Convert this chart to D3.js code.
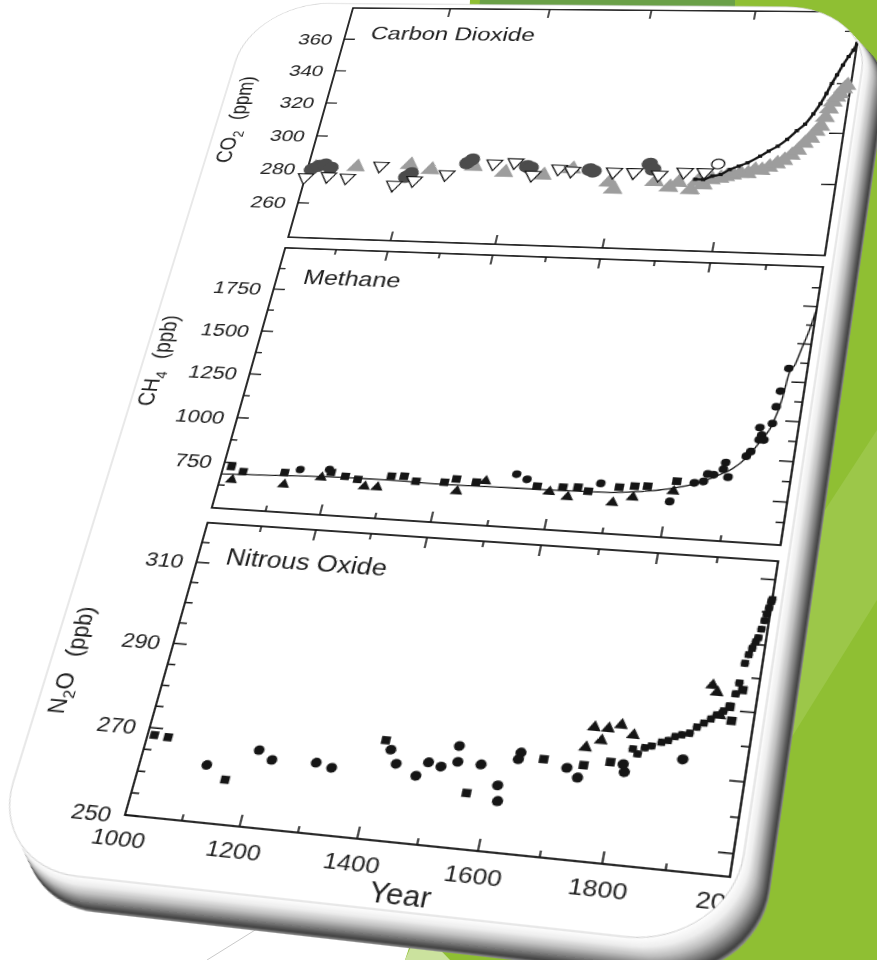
<!DOCTYPE html>
<html>
<head>
<meta charset="utf-8">
<script src="https://d3js.org/d3.v7.min.js"></script>
<style>
  body { margin: 0; background: #ffffff; }
  #stage { position: relative; width: 877px; height: 960px; overflow: hidden; }
  #bg, #chart { position: absolute; left: 0; top: 0; }
  #chart { transform-origin: 0 0; }
  text { font-family: "Liberation Sans", Arial, sans-serif; fill: #1e1e1e; }
</style>
</head>
<body>
<div id="stage">
  <svg id="bg" width="877" height="960"></svg>
  <div id="chart"></div>
</div>
<script>
// ---------------- data ----------------
const xLabelYears = [1000, 1200, 1400, 1600, 1800, 2000];
const xMajorTicks = [1200, 1400, 1600, 1800];
const xMinorTicks = [1100, 1300, 1500, 1700, 1900];

const co2Ticks = [260, 280, 300, 320, 340, 360];
const co2RightTicks = [279, 308, 337, 368];
const ch4Ticks = [750, 1000, 1250, 1500, 1750];
const ch4MinorTicks = [625, 875, 1125, 1375, 1625, 1875];
const ch4ForcingTicks = [-0.05, 0, 0.05, 0.1, 0.15, 0.2, 0.25, 0.3, 0.35, 0.4, 0.45, 0.5, 0.55];
const n2oTicks = [250, 270, 290, 310];
const n2oMinorTicks = [255, 260, 265, 275, 280, 285, 295, 300, 305, 315];
const n2oForcingTicks = [-0.1, -0.05, 0, 0.05, 0.1, 0.15, 0.2, 0.25, 0.3];

// Carbon dioxide (ppm)
const co2GreyTriangles = [[1012, 281], [1096, 282], [1200, 284], [1243, 281.5], [1325, 284], [1386, 281],
  [1460, 280], [1513, 284], [1587, 277], [1598, 273], [1672, 278], [1700, 275], [1715, 278], [1740, 274],
  [1750, 279], [1762, 277], [1775, 280], [1790, 281], [1800, 282], [1812, 283], [1825, 284], [1838, 284],
  [1850, 286], [1862, 286], [1875, 288], [1888, 290], [1900, 292], [1912, 295], [1922, 298], [1932, 302],
  [1942, 305], [1950, 309], [1957, 312], [1963, 317], [1968, 322], [1973, 326], [1978, 329], [1983, 331],
  [1988, 334], [1993, 336]];
const co2DarkCircles = [[1008, 280], [1020, 282], [1032, 283], [1046, 281], [1198, 277], [1206, 279],
  [1310, 286], [1318, 288], [1426, 285], [1434, 284], [1546, 284], [1554, 283], [1656, 288], [1664, 285]];
const co2OpenTriangles = [[1000, 275], [1045, 276], [1083, 275.5], [1143, 283], [1178, 272], [1215, 275],
  [1275, 279], [1362, 286], [1402, 287], [1440, 280], [1488, 284], [1513, 283], [1592, 283], [1630, 283],
  [1677, 282], [1723, 284], [1760, 284]];
const co2OpenCircles = [[1782, 289]];
const co2Black = [[1745, 280], [1760, 280], [1775, 282], [1790, 283], [1805, 286], [1820, 288], [1835, 290],
  [1856, 294], [1870, 297], [1885, 300], [1900, 304], [1915, 309], [1928, 313], [1940, 319], [1950, 325],
  [1958, 331], [1965, 337], [1972, 342], [1980, 348], [1988, 353], [1995, 357], [2000, 361]];

// Methane (ppb)
const ch4Squares = [[1015, 728], [1039, 705], [1116, 714], [1201, 730], [1228, 713], [1252, 701], [1311, 729],
  [1334, 733], [1357, 710], [1408, 714], [1428, 735], [1464, 725], [1572, 723], [1617, 726], [1643, 731],
  [1662, 713], [1714, 744], [1740, 754], [1762, 758], [1810, 793]];
const ch4Triangles = [[1022, 657], [1120, 649], [1185, 700], [1267, 666], [1290, 665], [1433, 670],
  [1480, 734], [1595, 698], [1628, 677], [1707, 662], [1740, 696], [1807, 740]];
const ch4Circles = [[1143, 735], [1196, 745], [1532, 780], [1552, 756], [1681, 758], [1804, 686],
  [1840, 790], [1855, 800], [1860, 840], [1870, 838], [1885, 870], [1887, 905], [1895, 830], [1920, 945],
  [1926, 970], [1935, 1100], [1937, 1035], [1940, 1060], [1945, 1035], [1955, 1125], [1957, 1215],
  [1960, 1300], [1968, 1425]];
const ch4Line = [[1000, 685], [1100, 695], [1200, 705], [1300, 708], [1400, 703], [1500, 705], [1600, 708],
  [1700, 714], [1750, 728], [1800, 752], [1850, 795], [1880, 840], [1900, 875], [1920, 935], [1940, 1030],
  [1955, 1120], [1965, 1260], [1970, 1400], [1978, 1450], [1985, 1540], [1993, 1640], [2000, 1760]];

// Nitrous oxide (ppb)
const n2oCircles = [[1117, 262.8], [1200, 267.2], [1226, 265.3], [1302, 265.6], [1330, 264.8], [1422, 270],
  [1436, 267], [1473, 264.8], [1489, 268], [1511, 267.3], [1534, 272.2], [1537, 268.7], [1576, 268.6],
  [1610, 264.4], [1615, 261], [1637, 272], [1635, 270.5], [1716, 269.6], [1736, 267.7], [1809, 269.8],
  [1805, 271.5], [1898, 273.7]];
const n2oSquares = [[1012, 268.4], [1037, 268.2], [1155, 259.9], [1410, 272], [1562, 262.1], [1676, 271],
  [1742, 270.5], [1784, 271.7], [1959, 286], [1965, 283], [1975, 290]];
const n2oTriangles = [[1748, 279], [1771, 279], [1791, 280], [1740, 274.4], [1763, 276.2], [1813, 278],
  [1926, 290.5], [1935, 289], [1945, 284]];
const n2oBand = [[1816, 275], [1825, 274], [1835, 275.5], [1845, 276], [1860, 277], [1870, 277.5],
  [1880, 278.5], [1890, 279], [1902, 279.5], [1912, 281], [1922, 282], [1932, 283], [1940, 284],
  [1950, 285], [1959, 286.3], [1965, 289], [1968, 291.5], [1972, 296], [1976, 298], [1980, 299.5],
  [1984, 301], [1987, 302], [1990, 304], [1993, 306], [1995, 307.5], [1997, 309], [1999, 310.5], [2000, 311]];

// ---------------- layout (flat chart, later put in perspective) ----------------
const W = 500, H = 915, ML = 130, MT = 20, SW = 700, SH = 1060;
// where the four corners of the plotting frame land on the page
const frameCorners = [[353, 8], [862, 12], [730, 877], [125, 815]];

const face = { x: ML - 106, y: MT - 6, w: 614, h: H + 66, r: 80 };
const bevel = { dx: 24, dy: 30 };

const panels = [
  { id: "co2", top: 0, bottom: 296, domain: [240, 380] },
  { id: "ch4", top: 309, bottom: 606, domain: [500, 2000] },
  { id: "n2o", top: 622, bottom: H, domain: [250, 320] }
];

// ---------------- background slide ----------------
const bg = d3.select("#bg");
bg.append("rect").attr("width", 877).attr("height", 960).attr("fill", "#ffffff");
bg.append("polygon").attr("points", "480,0 877,0 877,960 405,960 425,900 470,0").attr("fill", "#8fbf33");
bg.append("polygon").attr("points", "480,0 735,0 735,40 476,40").attr("fill", "#6aa048");
bg.append("polygon").attr("points", "790,740 812,530 877,430 877,600").attr("fill", "#9cc749");
bg.append("polygon").attr("points", "405,960 419,928 450,960").attr("fill", "#cbe29e");
bg.append("line").attr("x1", 268).attr("y1", 922).attr("x2", 207).attr("y2", 960)
  .attr("stroke", "#c9c9c9").attr("stroke-width", 1);

// ---------------- perspective ----------------
function homography(src, dst) {
  const A = [], B = [];
  for (let i = 0; i < 4; i++) {
    const [px, py] = src[i], [X, Y] = dst[i];
    A.push([px, py, 1, 0, 0, 0, -px * X, -py * X]); B.push(X);
    A.push([0, 0, 0, px, py, 1, -px * Y, -py * Y]); B.push(Y);
  }
  const n = 8;
  for (let i = 0; i < n; i++) {
    let p = i;
    for (let r = i + 1; r < n; r++) if (Math.abs(A[r][i]) > Math.abs(A[p][i])) p = r;
    [A[i], A[p]] = [A[p], A[i]]; [B[i], B[p]] = [B[p], B[i]];
    for (let r = i + 1; r < n; r++) {
      const k = A[r][i] / A[i][i];
      for (let c = i; c < n; c++) A[r][c] -= k * A[i][c];
      B[r] -= k * B[i];
    }
  }
  const s = new Array(n);
  for (let i = n - 1; i >= 0; i--) {
    let v = B[i];
    for (let c = i + 1; c < n; c++) v -= A[i][c] * s[c];
    s[i] = v / A[i][i];
  }
  return s;
}

const src = [[ML, MT], [ML + W, MT], [ML + W, MT + H], [ML, MT + H]];
const [a, b, c, d, e, f, g, h] = homography(src, frameCorners);
const chartDiv = d3.select("#chart")
  .style("width", SW + "px").style("height", SH + "px")
  .style("transform", `matrix3d(${a},${d},0,${g},${b},${e},0,${h},0,0,1,0,${c},${f},0,1)`);

const svg = chartDiv.append("svg").attr("width", SW).attr("height", SH);
const defs = svg.append("defs");
defs.append("clipPath").attr("id", "faceClip").append("rect")
  .attr("x", face.x).attr("y", face.y).attr("width", face.w).attr("height", face.h)
  .attr("rx", face.r).attr("ry", face.r);

// card edge (extruded, shaded)
const bevelColor = d3.scaleLinear()
  .domain([0, 0.25, 0.5, 0.75, 0.92, 1])
  .range(["#ffffff", "#eeeeee", "#bdbdbd", "#767676", "#404040", "#8c8c8c"]);
const steps = d3.range(40, -1, -1).map(i => i / 40);
svg.append("g").selectAll("rect").data(steps).join("rect")
  .attr("x", t => face.x + t * bevel.dx).attr("y", t => face.y + t * bevel.dy)
  .attr("width", face.w).attr("height", face.h).attr("rx", face.r).attr("ry", face.r)
  .attr("fill", t => bevelColor(t));

svg.append("rect")
  .attr("x", face.x).attr("y", face.y).attr("width", face.w).attr("height", face.h)
  .attr("rx", face.r).attr("ry", face.r)
  .attr("fill", "#ffffff").attr("stroke", "#d2d2d2").attr("stroke-width", 1);

const clipped = svg.append("g").attr("clip-path", "url(#faceClip)");
const plot = clipped.append("g").attr("transform", `translate(${ML},${MT})`);

// ---------------- scales ----------------
const x = d3.scaleLinear().domain([1000, 2000]).range([0, W]);
panels.forEach(p => { p.y = d3.scaleLinear().domain(p.domain).range([p.bottom, p.top]); });
const [co2P, ch4P, n2oP] = panels;

const ink = "#151515";

function leftTicks(p, vals, len) {
  plot.append("g").selectAll("line").data(vals).join("line")
    .attr("x1", 0).attr("x2", len).attr("y1", v => p.y(v)).attr("y2", v => p.y(v))
    .attr("stroke", ink).attr("stroke-width", 1.5);
}
function rightTicks(p, vals, yPos, len) {
  plot.append("g").selectAll("line").data(vals).join("line")
    .attr("x1", W).attr("x2", (v, i) => W - len(v, i))
    .attr("y1", v => yPos(v)).attr("y2", v => yPos(v))
    .attr("stroke", ink).attr("stroke-width", 1.5);
}
function topBottomTicks(p, vals, len) {
  const gt = plot.append("g");
  gt.selectAll(".t").data(vals).join("line").attr("class", "t")
    .attr("x1", v => x(v)).attr("x2", v => x(v)).attr("y1", p.top).attr("y2", p.top + len)
    .attr("stroke", ink).attr("stroke-width", 1.5);
  gt.selectAll(".b").data(vals).join("line").attr("class", "b")
    .attr("x1", v => x(v)).attr("x2", v => x(v)).attr("y1", p.bottom).attr("y2", p.bottom - len)
    .attr("stroke", ink).attr("stroke-width", 1.5);
}
function leftLabels(p, vals) {
  plot.append("g").selectAll("text").data(vals).join("text")
    .attr("x", -12).attr("y", v => p.y(v)).attr("dy", "0.36em")
    .attr("text-anchor", "end").attr("font-size", 21).text(v => v);
}
function yTitle(xPos, cy, parts) {
  const t = plot.append("text")
    .attr("transform", `translate(${xPos},${cy}) rotate(-90)`)
    .attr("text-anchor", "middle").attr("font-size", 22);
  parts.forEach(([txt, sub, gap]) => {
    const s = t.append("tspan").text(txt);
    if (sub === 1) s.attr("font-size", 15).attr("dy", 5);
    if (sub === -1) s.attr("dy", -5);
    if (gap) s.attr("dx", gap);
  });
}
function panelTitle(p, label) {
  plot.append("text").attr("x", 26).attr("y", p.top + 42).attr("font-size", 24).text(label);
}
function symbols(p, data, type, size, fill, stroke, flip) {
  plot.append("g").selectAll("path").data(data).join("path")
    .attr("d", d3.symbol(type, size))
    .attr("transform", dd => `translate(${x(dd[0])},${p.y(dd[1])})${flip ? " rotate(180)" : ""}`)
    .attr("fill", fill).attr("stroke", stroke || "none").attr("stroke-width", 1.3);
}

// ---------------- frames ----------------
panels.forEach(p => {
  plot.append("rect").attr("x", 0).attr("y", p.top).attr("width", W).attr("height", p.bottom - p.top)
    .attr("fill", "none").attr("stroke", ink).attr("stroke-width", 1.8);
});

// Carbon dioxide
leftTicks(co2P, co2Ticks, 11);
leftLabels(co2P, co2Ticks);
rightTicks(co2P, co2RightTicks, v => co2P.y(v), () => 13);
topBottomTicks(co2P, xMajorTicks, 11);
panelTitle(co2P, "Carbon Dioxide");
yTitle(-80, 150, [["CO", 0], ["2", 1], ["(ppm)", -1, 14]]);

// Methane
const ch4F = d3.scaleLinear().domain([-0.104, 0.607]).range([ch4P.bottom, ch4P.top]);
leftTicks(ch4P, ch4Ticks, 11);
leftTicks(ch4P, ch4MinorTicks, 6);
leftLabels(ch4P, ch4Ticks);
rightTicks(ch4P, ch4ForcingTicks, v => ch4F(v), (v, i) => (i % 2 === 1 ? 12 : 7));
topBottomTicks(ch4P, xMajorTicks, 11);
topBottomTicks(ch4P, xMinorTicks, 6);
panelTitle(ch4P, "Methane");
yTitle(-84, 447, [["CH", 0], ["4", 1], ["(ppb)", -1, 14]]);

// Nitrous oxide
const n2oF = d3.scaleLinear().domain([-0.132, 0.329]).range([n2oP.bottom, n2oP.top]);
leftTicks(n2oP, n2oTicks, 12);
leftTicks(n2oP, n2oMinorTicks, 7);
leftLabels(n2oP, n2oTicks);
rightTicks(n2oP, n2oForcingTicks, v => n2oF(v), (v, i) => (i % 2 === 0 ? 12 : 7));
topBottomTicks(n2oP, xMajorTicks, 11);
topBottomTicks(n2oP, xMinorTicks, 6);
panelTitle(n2oP, "Nitrous Oxide");
yTitle(-80, 772, [["N", 0], ["2", 1], ["O", -1], ["(ppb)", 0, 16]]);

// x axis labels (bottom panel only)
plot.append("g").selectAll("text").data(xLabelYears).join("text")
  .attr("x", v => x(v)).attr("y", H + 29).attr("text-anchor", "middle")
  .attr("font-size", 21).text(v => v);
plot.append("text").attr("x", x(1490)).attr("y", H + 54).attr("text-anchor", "middle")
  .attr("font-size", 25).text("Year");

// ---------------- data marks ----------------
const lineGen = p => d3.line().x(dd => x(dd[0])).y(dd => p.y(dd[1])).curve(d3.curveMonotoneX);

// CO2
symbols(co2P, co2GreyTriangles, d3.symbolTriangle, 150, "#9d9d9d");
symbols(co2P, co2DarkCircles, d3.symbolCircle, 185, "#4c4c4c");
symbols(co2P, co2OpenTriangles, d3.symbolTriangle, 100, "#ffffff", ink, true);
symbols(co2P, co2OpenCircles, d3.symbolCircle, 110, "#ffffff", ink);
plot.append("path").datum(co2Black).attr("d", lineGen(co2P))
  .attr("fill", "none").attr("stroke", ink).attr("stroke-width", 2.6);
symbols(co2P, co2Black, d3.symbolSquare, 16, ink);

// CH4
plot.append("path").datum(ch4Line).attr("d", lineGen(ch4P))
  .attr("fill", "none").attr("stroke", ink).attr("stroke-width", 1.3);
symbols(ch4P, ch4Squares, d3.symbolSquare, 62, ink);
symbols(ch4P, ch4Triangles, d3.symbolTriangle, 55, ink);
symbols(ch4P, ch4Circles, d3.symbolCircle, 52, ink);

// N2O
symbols(n2oP, n2oBand, d3.symbolSquare, 40, ink);
symbols(n2oP, n2oBand, d3.symbolCircle, 34, ink);
symbols(n2oP, n2oCircles, d3.symbolCircle, 66, ink);
symbols(n2oP, n2oSquares, d3.symbolSquare, 58, ink);
symbols(n2oP, n2oTriangles, d3.symbolTriangle, 56, ink);
</script>
</body>
</html>
